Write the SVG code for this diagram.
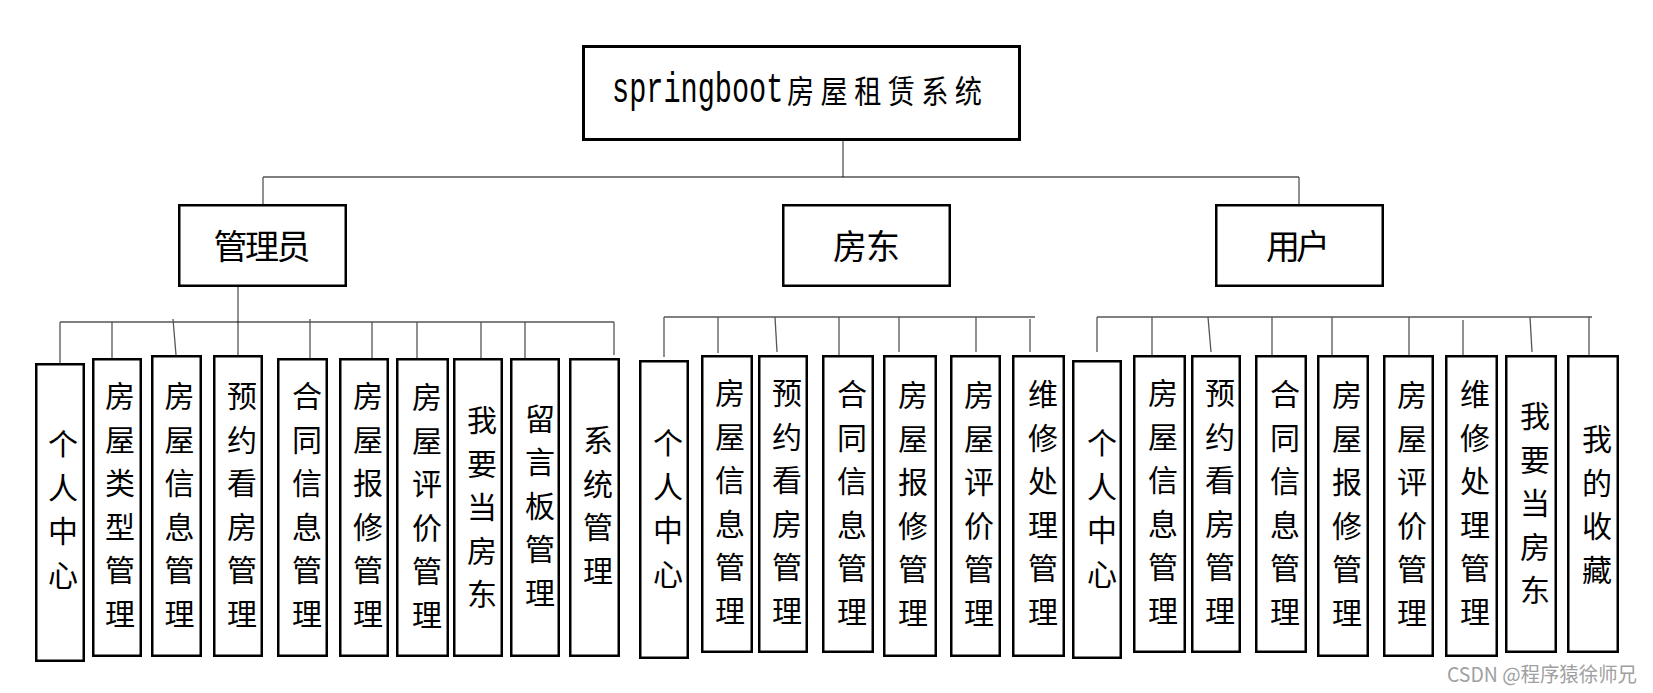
<svg xmlns="http://www.w3.org/2000/svg" width="1653" height="693" viewBox="0 0 1653 693">
<style>
.box{fill:#fff;stroke:#000;stroke-width:2.5}
.top{fill:#fff;stroke:#000;stroke-width:3}
.bus{stroke:#000;stroke-width:1.2;fill:none}
.gbus{stroke:#808080;stroke-width:2;fill:none}
.drop{stroke:#555;stroke-width:1.3;fill:none}
.v{font-family:"Noto Sans CJK SC","Noto Sans",sans-serif;font-size:30px;fill:#000;text-anchor:middle;dominant-baseline:central}
.h{font-family:"Noto Sans CJK SC","Noto Sans",sans-serif;font-size:34px;fill:#000;text-anchor:middle;dominant-baseline:central}
.lat{font-family:"Liberation Mono","Noto Sans CJK SC",monospace;font-size:42px;fill:#000}
.cjk{font-family:"Noto Sans CJK SC",sans-serif;font-size:32px;letter-spacing:7.5px;fill:#000;dominant-baseline:central}
.wm{font-family:"Noto Sans CJK SC","Noto Sans",sans-serif;font-size:20px;fill:#a0a0a0}
</style>
<rect width="1653" height="693" fill="#fff"/>
<g id="connectors">
<line class="drop" x1="843" y1="141" x2="843" y2="177"/>
<line class="bus" x1="263" y1="177" x2="1299" y2="177"/>
<line class="drop" x1="263" y1="177" x2="263" y2="204"/>
<line class="drop" x1="1299" y1="177" x2="1299" y2="204"/>
<line class="drop" x1="238" y1="287" x2="238" y2="355"/>
<line class="bus" x1="60" y1="322" x2="614" y2="322"/>
<line class="drop" x1="60" y1="322" x2="60" y2="363"/>
<line class="drop" x1="112" y1="322" x2="112" y2="358"/>
<line class="drop" x1="173" y1="319" x2="176" y2="355"/>
<line class="drop" x1="310" y1="319" x2="310" y2="358"/>
<line class="drop" x1="372" y1="322" x2="372" y2="358"/>
<line class="drop" x1="417" y1="322" x2="417" y2="358"/>
<line class="drop" x1="481" y1="322" x2="481" y2="358"/>
<line class="drop" x1="525" y1="322" x2="525" y2="358"/>
<line class="drop" x1="614" y1="322" x2="614" y2="355"/>
<line class="gbus" x1="664" y1="317" x2="1035" y2="317"/>
<line class="drop" x1="664" y1="317" x2="664" y2="357"/>
<line class="drop" x1="718" y1="317" x2="718" y2="353"/>
<line class="drop" x1="775" y1="317" x2="777" y2="352"/>
<line class="drop" x1="839" y1="317" x2="839" y2="355"/>
<line class="drop" x1="899" y1="317" x2="899" y2="352"/>
<line class="drop" x1="976" y1="317" x2="976" y2="352"/>
<line class="drop" x1="1030" y1="319" x2="1030" y2="352"/>
<line class="gbus" x1="1097" y1="317" x2="1592" y2="317"/>
<line class="drop" x1="1097" y1="317" x2="1097" y2="352"/>
<line class="drop" x1="1152" y1="317" x2="1152" y2="355"/>
<line class="drop" x1="1208" y1="317" x2="1211" y2="352"/>
<line class="drop" x1="1272" y1="317" x2="1272" y2="355"/>
<line class="drop" x1="1332" y1="317" x2="1332" y2="355"/>
<line class="drop" x1="1409" y1="317" x2="1409" y2="355"/>
<line class="drop" x1="1463" y1="320" x2="1463" y2="355"/>
<line class="drop" x1="1530" y1="317" x2="1532" y2="352"/>
<line class="drop" x1="1589" y1="317" x2="1589" y2="355"/>
</g>
<g id="root">
<rect class="top" x="583.5" y="46.5" width="436" height="93"/>
<text class="lat" transform="translate(612,102) scale(0.68,1)" x="0" y="0">springboot</text>
<text class="cjk" transform="translate(787,90) scale(0.85,1)" x="0" y="0">房屋租赁系统</text>
</g>
<g id="admin"><rect class="box" x="179.25" y="205.25" width="166.5" height="80.5"/><text class="h" x="262" y="244" textLength="97" lengthAdjust="spacing">管理员</text></g>
<g id="landlord"><rect class="box" x="783.25" y="205.25" width="166.5" height="80.5"/><text class="h" x="866.5" y="244" textLength="67" lengthAdjust="spacing">房东</text></g>
<g id="user"><rect class="box" x="1216.25" y="205.25" width="166.5" height="80.5"/><text class="h" x="1298" y="244" textLength="64" lengthAdjust="spacing">用户</text></g>

<g id="a1"><rect class="box" x="36.25" y="364.25" width="47.5" height="296.5"/><text class="v"><tspan x="63" y="442">个</tspan><tspan x="63" dy="43.5">人</tspan><tspan x="63" dy="43.5">中</tspan><tspan x="63" dy="43.5">心</tspan></text></g>
<g id="a2"><rect class="box" x="93.25" y="359.25" width="47.5" height="296.5"/><text class="v"><tspan x="120" y="394">房</tspan><tspan x="120" dy="43.5">屋</tspan><tspan x="120" dy="43.5">类</tspan><tspan x="120" dy="43.5">型</tspan><tspan x="120" dy="43.5">管</tspan><tspan x="120" dy="43.5">理</tspan></text></g>
<g id="a3"><rect class="box" x="152.25" y="356.25" width="48.5" height="299.5"/><text class="v"><tspan x="179.5" y="394">房</tspan><tspan x="179.5" dy="43.5">屋</tspan><tspan x="179.5" dy="43.5">信</tspan><tspan x="179.5" dy="43.5">息</tspan><tspan x="179.5" dy="43.5">管</tspan><tspan x="179.5" dy="43.5">理</tspan></text></g>
<g id="a4"><rect class="box" x="214.25" y="356.25" width="47.5" height="299.5"/><text class="v"><tspan x="242" y="394">预</tspan><tspan x="242" dy="43.5">约</tspan><tspan x="242" dy="43.5">看</tspan><tspan x="242" dy="43.5">房</tspan><tspan x="242" dy="43.5">管</tspan><tspan x="242" dy="43.5">理</tspan></text></g>
<g id="a5"><rect class="box" x="278.25" y="359.25" width="48.5" height="296.5"/><text class="v"><tspan x="307" y="394">合</tspan><tspan x="307" dy="43.5">同</tspan><tspan x="307" dy="43.5">信</tspan><tspan x="307" dy="43.5">息</tspan><tspan x="307" dy="43.5">管</tspan><tspan x="307" dy="43.5">理</tspan></text></g>
<g id="a6"><rect class="box" x="340.25" y="359.25" width="47.5" height="296.5"/><text class="v"><tspan x="368" y="394">房</tspan><tspan x="368" dy="43.5">屋</tspan><tspan x="368" dy="43.5">报</tspan><tspan x="368" dy="43.5">修</tspan><tspan x="368" dy="43.5">管</tspan><tspan x="368" dy="43.5">理</tspan></text></g>
<g id="a7"><rect class="box" x="397.25" y="359.25" width="50.5" height="296.5"/><text class="v"><tspan x="427" y="395">房</tspan><tspan x="427" dy="43.5">屋</tspan><tspan x="427" dy="43.5">评</tspan><tspan x="427" dy="43.5">价</tspan><tspan x="427" dy="43.5">管</tspan><tspan x="427" dy="43.5">理</tspan></text></g>
<g id="a8"><rect class="box" x="454.25" y="359.25" width="47.5" height="296.5"/><text class="v"><tspan x="482" y="418">我</tspan><tspan x="482" dy="43.5">要</tspan><tspan x="482" dy="43.5">当</tspan><tspan x="482" dy="43.5">房</tspan><tspan x="482" dy="43.5">东</tspan></text></g>
<g id="a9"><rect class="box" x="511.25" y="359.25" width="47.5" height="296.5"/><text class="v"><tspan x="540" y="416.5">留</tspan><tspan x="540" dy="43.5">言</tspan><tspan x="540" dy="43.5">板</tspan><tspan x="540" dy="43.5">管</tspan><tspan x="540" dy="43.5">理</tspan></text></g>
<g id="a10"><rect class="box" x="570.25" y="359.25" width="48.5" height="296.5"/><text class="v"><tspan x="598" y="438">系</tspan><tspan x="598" dy="43.5">统</tspan><tspan x="598" dy="43.5">管</tspan><tspan x="598" dy="43.5">理</tspan></text></g>

<g id="l1"><rect class="box" x="640.25" y="361.25" width="47.5" height="296.5"/><text class="v"><tspan x="668" y="441">个</tspan><tspan x="668" dy="43.5">人</tspan><tspan x="668" dy="43.5">中</tspan><tspan x="668" dy="43.5">心</tspan></text></g>
<g id="l2"><rect class="box" x="702.25" y="356.25" width="49.5" height="295.5"/><text class="v"><tspan x="730" y="391">房</tspan><tspan x="730" dy="43.5">屋</tspan><tspan x="730" dy="43.5">信</tspan><tspan x="730" dy="43.5">息</tspan><tspan x="730" dy="43.5">管</tspan><tspan x="730" dy="43.5">理</tspan></text></g>
<g id="l3"><rect class="box" x="759.25" y="356.25" width="47.5" height="295.5"/><text class="v"><tspan x="787" y="391">预</tspan><tspan x="787" dy="43.5">约</tspan><tspan x="787" dy="43.5">看</tspan><tspan x="787" dy="43.5">房</tspan><tspan x="787" dy="43.5">管</tspan><tspan x="787" dy="43.5">理</tspan></text></g>
<g id="l4"><rect class="box" x="823.25" y="356.25" width="49.5" height="295.5"/><text class="v"><tspan x="852" y="392">合</tspan><tspan x="852" dy="43.5">同</tspan><tspan x="852" dy="43.5">信</tspan><tspan x="852" dy="43.5">息</tspan><tspan x="852" dy="43.5">管</tspan><tspan x="852" dy="43.5">理</tspan></text></g>
<g id="l5"><rect class="box" x="884.25" y="356.25" width="51.5" height="299.5"/><text class="v"><tspan x="913" y="393">房</tspan><tspan x="913" dy="43.5">屋</tspan><tspan x="913" dy="43.5">报</tspan><tspan x="913" dy="43.5">修</tspan><tspan x="913" dy="43.5">管</tspan><tspan x="913" dy="43.5">理</tspan></text></g>
<g id="l6"><rect class="box" x="951.25" y="356.25" width="48.5" height="299.5"/><text class="v"><tspan x="979" y="393">房</tspan><tspan x="979" dy="43.5">屋</tspan><tspan x="979" dy="43.5">评</tspan><tspan x="979" dy="43.5">价</tspan><tspan x="979" dy="43.5">管</tspan><tspan x="979" dy="43.5">理</tspan></text></g>
<g id="l7"><rect class="box" x="1013.25" y="356.25" width="50.5" height="299.5"/><text class="v"><tspan x="1043" y="392">维</tspan><tspan x="1043" dy="43.5">修</tspan><tspan x="1043" dy="43.5">处</tspan><tspan x="1043" dy="43.5">理</tspan><tspan x="1043" dy="43.5">管</tspan><tspan x="1043" dy="43.5">理</tspan></text></g>

<g id="u1"><rect class="box" x="1073.25" y="361.25" width="47.5" height="296.5"/><text class="v"><tspan x="1102" y="441">个</tspan><tspan x="1102" dy="43.5">人</tspan><tspan x="1102" dy="43.5">中</tspan><tspan x="1102" dy="43.5">心</tspan></text></g>
<g id="u2"><rect class="box" x="1134.25" y="356.25" width="50.5" height="295.5"/><text class="v"><tspan x="1163" y="391">房</tspan><tspan x="1163" dy="43.5">屋</tspan><tspan x="1163" dy="43.5">信</tspan><tspan x="1163" dy="43.5">息</tspan><tspan x="1163" dy="43.5">管</tspan><tspan x="1163" dy="43.5">理</tspan></text></g>
<g id="u3"><rect class="box" x="1192.25" y="356.25" width="47.5" height="295.5"/><text class="v"><tspan x="1220" y="391">预</tspan><tspan x="1220" dy="43.5">约</tspan><tspan x="1220" dy="43.5">看</tspan><tspan x="1220" dy="43.5">房</tspan><tspan x="1220" dy="43.5">管</tspan><tspan x="1220" dy="43.5">理</tspan></text></g>
<g id="u4"><rect class="box" x="1256.25" y="356.25" width="49.5" height="295.5"/><text class="v"><tspan x="1285" y="392">合</tspan><tspan x="1285" dy="43.5">同</tspan><tspan x="1285" dy="43.5">信</tspan><tspan x="1285" dy="43.5">息</tspan><tspan x="1285" dy="43.5">管</tspan><tspan x="1285" dy="43.5">理</tspan></text></g>
<g id="u5"><rect class="box" x="1318.25" y="356.25" width="49.5" height="299.5"/><text class="v"><tspan x="1347" y="393">房</tspan><tspan x="1347" dy="43.5">屋</tspan><tspan x="1347" dy="43.5">报</tspan><tspan x="1347" dy="43.5">修</tspan><tspan x="1347" dy="43.5">管</tspan><tspan x="1347" dy="43.5">理</tspan></text></g>
<g id="u6"><rect class="box" x="1384.25" y="356.25" width="48.5" height="299.5"/><text class="v"><tspan x="1412" y="393">房</tspan><tspan x="1412" dy="43.5">屋</tspan><tspan x="1412" dy="43.5">评</tspan><tspan x="1412" dy="43.5">价</tspan><tspan x="1412" dy="43.5">管</tspan><tspan x="1412" dy="43.5">理</tspan></text></g>
<g id="u7"><rect class="box" x="1446.25" y="356.25" width="50.5" height="299.5"/><text class="v"><tspan x="1475" y="392">维</tspan><tspan x="1475" dy="43.5">修</tspan><tspan x="1475" dy="43.5">处</tspan><tspan x="1475" dy="43.5">理</tspan><tspan x="1475" dy="43.5">管</tspan><tspan x="1475" dy="43.5">理</tspan></text></g>
<g id="u8"><rect class="box" x="1506.25" y="356.25" width="49.5" height="295.5"/><text class="v"><tspan x="1535" y="414">我</tspan><tspan x="1535" dy="43.5">要</tspan><tspan x="1535" dy="43.5">当</tspan><tspan x="1535" dy="43.5">房</tspan><tspan x="1535" dy="43.5">东</tspan></text></g>
<g id="u9"><rect class="box" x="1568.25" y="356.25" width="49.5" height="295.5"/><text class="v"><tspan x="1597" y="437">我</tspan><tspan x="1597" dy="43.5">的</tspan><tspan x="1597" dy="43.5">收</tspan><tspan x="1597" dy="43.5">藏</tspan></text></g>

<text class="wm" x="1447" y="682" textLength="190" lengthAdjust="spacingAndGlyphs">CSDN @程序猿徐师兄</text>
</svg>
